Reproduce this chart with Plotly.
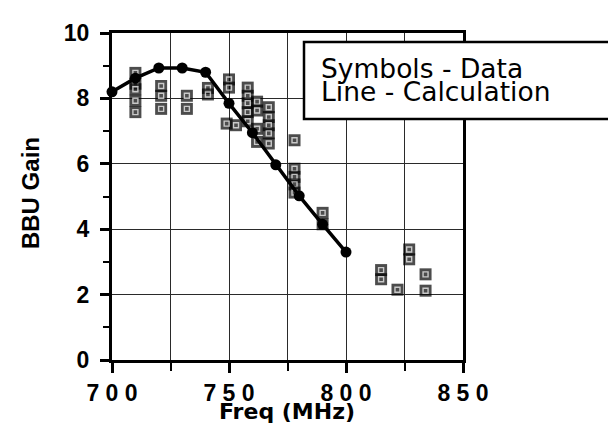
import plotly.graph_objects as go

# ---- data ----
calc_freq = [700, 710, 720, 730, 740, 750, 760, 770, 780, 790, 800]
calc_gain = [8.2, 8.62, 8.93, 8.93, 8.8, 7.85, 6.95, 5.97, 5.02, 4.15, 3.3]

data_freq = [710, 710, 710, 710, 710,
             721, 721, 721,
             732, 732,
             741, 741,
             750, 750, 749, 753,
             758, 758, 758, 758, 758,
             762, 762, 762, 762,
             767, 767, 767, 767, 767,
             778, 778, 778, 778, 778,
             790, 790,
             815, 815,
             822,
             827, 827,
             834, 834]
data_gain = [8.78, 8.45, 8.28, 7.93, 7.58,
             8.38, 8.08, 7.68,
             8.08, 7.68,
             8.32, 8.12,
             8.58, 8.33, 7.23, 7.18,
             8.33, 8.08, 7.85, 7.58, 7.3,
             7.9, 7.63, 7.07, 6.67,
             7.73, 7.43, 7.18, 6.93, 6.62,
             6.72, 5.85, 5.6, 5.37, 5.12,
             4.5, 4.15,
             2.75, 2.47,
             2.15,
             3.38, 3.08,
             2.62, 2.12]

x_tickvals = [700, 750, 800, 850]
x_ticktext = ["7 0 0", "7 5 0", "8 0 0", "8 5 0"]
legend_lines = ["Symbols - Data", "Line - Calculation"]
x_title = "Freq (MHz)"
y_title = "BBU Gain"

FONT = "Liberation Sans, Arial, Helvetica, sans-serif"
FONT_WIDE = "DejaVu Sans, Liberation Sans, sans-serif"

# plot area in pixels
L, R, T, B = 104, 455, 21, 352
W, H = 616, 425


def px(xp):
    return (xp - L) / (R - L)


def py(yp):
    return (B - yp) / (B - T)


fig = go.Figure()

# interleave black square + white inner ring for each data point
xs, ys, syms, sizes, cols, lws = [], [], [], [], [], []
for f, g in zip(data_freq, data_gain):
    xs += [f, f]
    ys += [g, g]
    syms += ["square", "square-open"]
    sizes += [12, 5]
    cols += ["black", "white"]
    lws += [0, 1.4]

fig.add_trace(go.Scatter(
    x=xs, y=ys, mode="markers", showlegend=False, hoverinfo="skip",
    marker=dict(symbol=syms, size=sizes, color=cols,
                line=dict(width=lws, color=cols)),
    cliponaxis=False,
))

fig.add_trace(go.Scatter(
    x=calc_freq, y=calc_gain, mode="lines+markers", showlegend=False,
    line=dict(color="black", width=3.5),
    marker=dict(symbol="circle", size=11, color="black"),
    cliponaxis=False,
))

grid_col = "#2a2a2a"

fig.update_xaxes(
    range=[700, 850], tickmode="array", tickvals=x_tickvals, ticktext=x_ticktext,
    ticks="outside", ticklen=10, tickwidth=2.5, tickcolor="black",
    showline=True, linewidth=3, linecolor="black", mirror=True,
    showgrid=True, gridcolor=grid_col, gridwidth=1.3, zeroline=False,
    tickfont=dict(family=FONT, size=23, color="black", weight="bold"),
    ticklabelstandoff=0,
    minor=dict(dtick=25, tick0=700, ticks="outside", ticklen=8, tickwidth=2,
               tickcolor="black", showgrid=True, gridcolor=grid_col, gridwidth=1.3),
)
fig.update_yaxes(
    range=[0, 10], tick0=0, dtick=2,
    ticks="outside", ticklen=9, tickwidth=2.5, tickcolor="black",
    showline=True, linewidth=3, linecolor="black", mirror=True,
    showgrid=True, gridcolor=grid_col, gridwidth=1.3, zeroline=False,
    tickfont=dict(family=FONT, size=23, color="black", weight="bold"),
    ticklabelstandoff=6,
    minor=dict(dtick=1, tick0=0, ticks="outside", ticklen=6, tickwidth=2,
               tickcolor="black", showgrid=False),
)

annotations = [
    dict(text=y_title, xref="paper", yref="paper", x=px(22), y=py(183),
         textangle=-90, showarrow=False, xanchor="center", yanchor="middle",
         font=dict(family=FONT, size=24, color="black", weight="bold")),
    dict(text=x_title, xref="paper", yref="paper", x=px(279), y=py(404),
         showarrow=False, xanchor="center", yanchor="middle",
         font=dict(family=FONT_WIDE, size=22, color="black", weight="bold")),
    dict(text=legend_lines[0], xref="paper", yref="paper", x=px(311), y=py(57),
         showarrow=False, xanchor="left", yanchor="middle",
         font=dict(family=FONT_WIDE, size=26.5, color="black")),
    dict(text=legend_lines[1], xref="paper", yref="paper", x=px(311), y=py(80),
         showarrow=False, xanchor="left", yanchor="middle",
         font=dict(family=FONT_WIDE, size=26.5, color="black")),
]

shapes = [
    dict(type="rect", xref="paper", yref="paper",
         x0=px(296), x1=px(613), y0=py(108), y1=py(30),
         line=dict(color="black", width=2.5), fillcolor="white", layer="above"),
]

fig.update_layout(
    width=W, height=H,
    margin=dict(l=L, r=W - R, t=T, b=H - B, pad=0),
    paper_bgcolor="white", plot_bgcolor="white",
    annotations=annotations, shapes=shapes,
    showlegend=False,
)

fig.write_html("out.html")
